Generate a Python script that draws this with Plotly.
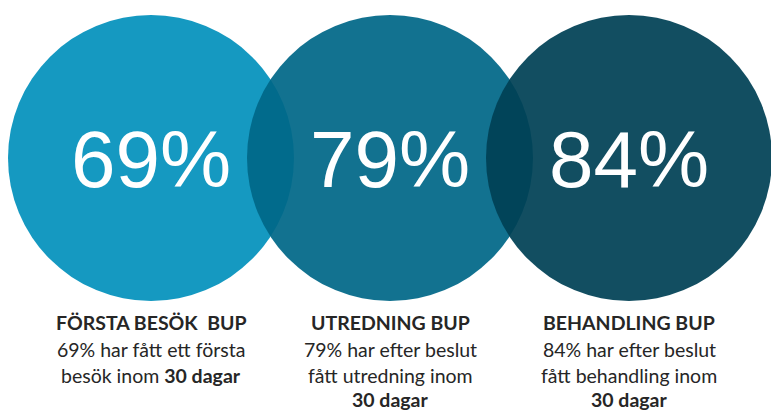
import plotly.graph_objects as go

# ---- data ----
titles = ["FÖRSTA BESÖK&nbsp; BUP", "UTREDNING BUP", "BEHANDLING BUP"]
values = [69, 79, 84]
desc_lines = [
    ["69% har fått ett första", "besök inom <b>30 dagar</b>"],
    ["79% har efter beslut", "fått utredning inom", "<b>30 dagar</b>"],
    ["84% har efter beslut", "fått behandling inom", "<b>30 dagar</b>"],
]
colors = ["#1599c1", "#006788", "#004155"]
opacities = [1.0, 0.93, 0.93]

# ---- layout geometry (in axis units; 1 unit = spacing between circles) ----
W, H = 771, 412
unit = 239.0
x0_px, yc_px = 151.0, 158.0
r = 143.0 / unit
line_px = [322, 349, 375.5, 399]


def ypx(p):
    return -(p - yc_px) / unit


fig = go.Figure()
fig.add_trace(go.Scatter(x=[0, 1, 2], y=[0, 0, 0], mode="markers",
                         marker=dict(opacity=0), hoverinfo="skip", showlegend=False))

for i, v in enumerate(values):
    fig.add_shape(type="circle", xref="x", yref="y",
                  x0=i - r, x1=i + r, y0=-r, y1=r,
                  fillcolor=colors[i], opacity=opacities[i],
                  line=dict(width=0), layer="below")
    fig.add_annotation(x=i, y=ypx(159), xref="x", yref="y", text=f"{v}%",
                       showarrow=False, yanchor="middle", xanchor="center",
                       font=dict(family="Liberation Sans, Arial, sans-serif",
                                 size=80, color="white"))
    lines = ["<b>" + titles[i] + "</b>"] + desc_lines[i]
    for k, t in enumerate(lines):
        fig.add_annotation(x=i, y=ypx(line_px[k]), xref="x", yref="y",
                           text=t, showarrow=False, yanchor="middle", xanchor="center",
                           font=dict(family="Lato, sans-serif", size=19.5, color="#262626"))

fig.update_xaxes(range=[-x0_px / unit, (W - x0_px) / unit], visible=False, fixedrange=True)
fig.update_yaxes(range=[-(H - yc_px) / unit, yc_px / unit], visible=False, fixedrange=True)
fig.update_layout(width=W, height=H, margin=dict(l=0, r=0, t=0, b=0),
                  paper_bgcolor="white", plot_bgcolor="white", showlegend=False)

fig.write_html("out.html", config={"displayModeBar": False},
               post_script="document.body.style.margin='0';")
